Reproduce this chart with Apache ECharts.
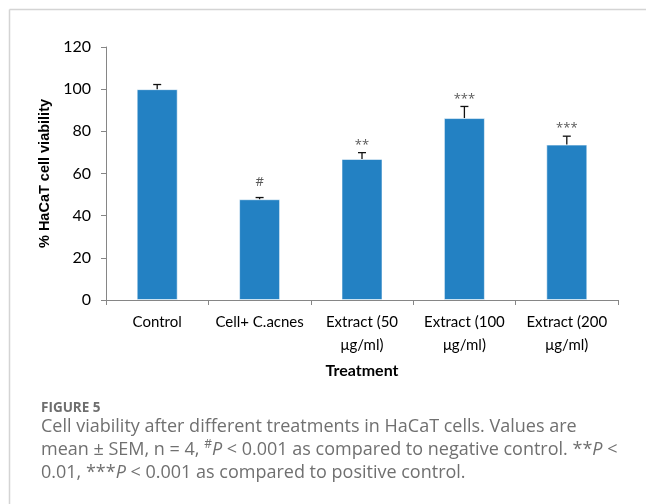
<!DOCTYPE html>
<html>
<head>
<meta charset="utf-8">
<script src="https://cdn.jsdelivr.net/npm/echarts@6/dist/echarts.min.js"></script>
<style>
  html, body { margin: 0; padding: 0; background: #fff; }
  #chart { width: 646px; height: 504px; }
</style>
</head>
<body>
<div id="chart"></div>
<script>
// Treatment groups, mean viability (%) and SEM
const categories = ['Control', 'Cell+ C.acnes', 'Extract (50\nμg/ml)', 'Extract (100\nμg/ml)', 'Extract (200\nμg/ml)'];
const viability = [100, 47.8, 66.9, 86.3, 73.7];
const sem = [2.2, 0.8, 3.0, 5.5, 4.0];
const significance = ['', '#', '**', '***', '***'];
const yTicks = { min: 0, max: 120, interval: 20 };

const chart = echarts.init(document.getElementById('chart'), null, { renderer: 'canvas' });

const tickFont = 'Lato, "Open Sans", sans-serif';
const captionFont = '"Open Sans", "Noto Sans", sans-serif';

const errorData = viability.map((v, i) => [i, v, sem[i], significance[i]]);

function renderError(params, api) {
  const i = api.value(0);
  const v = api.value(1);
  const e = api.value(2);
  const mark = significance[i];
  const base = api.coord([i, v]);
  const top = api.coord([i, v + e]);
  const cap = 4;
  const children = [
    { type: 'line', shape: { x1: base[0], y1: base[1], x2: top[0], y2: top[1] },
      style: { stroke: '#111', lineWidth: 1.3 } },
    { type: 'line', shape: { x1: top[0] - cap, y1: top[1], x2: top[0] + cap, y2: top[1] },
      style: { stroke: '#111', lineWidth: 1.3 } }
  ];
  if (mark) {
    const gap = mark === '#' ? 9 : 1;
    children.push({
      type: 'text',
      style: {
        x: top[0], y: top[1] - gap, text: mark,
        align: 'center', verticalAlign: 'bottom',
        fill: '#595959', font: '13px "Open Sans", sans-serif'
      }
    });
  }
  return { type: 'group', children };
}

const captionLines = [
  'Cell viability after different treatments in HaCaT cells. Values are',
  'mean ± SEM, n = 4, {sup|#}{i|P} < 0.001 as compared to negative control. **{i|P} <',
  '0.01, ***{i|P} < 0.001 as compared to positive control.'
];

const captionSize = 18;
const richCaption = {
  i: { fontStyle: 'italic', fontSize: captionSize, fontFamily: captionFont, fill: '#707070', lineHeight: 22 },
  sup: { fontSize: 12, fontFamily: captionFont, fill: '#707070', verticalAlign: 'top', lineHeight: 12 }
};

const graphics = [
  { type: 'line', shape: { x1: 9.5, y1: 9.5, x2: 646, y2: 9.5 }, style: { stroke: '#d4d4d4', lineWidth: 1.5 } },
  { type: 'line', shape: { x1: 9.5, y1: 9.5, x2: 9.5, y2: 504 }, style: { stroke: '#d4d4d4', lineWidth: 1.5 } },
  { type: 'text', left: 41, top: 401,
    style: { text: 'FIGURE 5', font: 'bold 13.5px ' + captionFont, fill: '#6e6e6e' } }
];
captionLines.forEach((line, k) => {
  graphics.push({
    type: 'text', left: 41, top: 416 + k * 23,
    style: {
      text: line, font: captionSize + 'px ' + captionFont, fill: '#707070',
      lineHeight: 22, rich: richCaption
    }
  });
});

chart.setOption({
  backgroundColor: '#ffffff',
  animation: false,
  grid: { left: 106, right: 28, top: 47, bottom: 204, containLabel: false },
  xAxis: {
    type: 'category',
    data: categories,
    name: 'Treatment',
    nameLocation: 'middle',
    nameGap: 63,
    nameTextStyle: { fontFamily: tickFont, fontWeight: 'bold', fontSize: 16, color: '#000' },
    axisLine: { lineStyle: { color: '#868686', width: 1 } },
    axisTick: { show: true, length: 5, alignWithLabel: false, lineStyle: { color: '#868686' } },
    axisLabel: { fontFamily: tickFont, fontSize: 15, color: '#000', lineHeight: 23, margin: 11, interval: 0 }
  },
  yAxis: {
    type: 'value',
    min: yTicks.min, max: yTicks.max, interval: yTicks.interval,
    name: '% HaCaT cell viability',
    nameLocation: 'middle',
    nameRotate: 90,
    nameGap: 48,
    nameTextStyle: { fontFamily: '"Liberation Sans", Arial, sans-serif', fontWeight: 'bold', fontSize: 14.5, color: '#000' },
    axisLine: { show: true, lineStyle: { color: '#868686', width: 1 } },
    axisTick: { show: true, length: 5, inside: false, lineStyle: { color: '#868686' } },
    splitLine: { show: false },
    axisLabel: { fontFamily: tickFont, fontSize: 16, color: '#000', margin: 15 }
  },
  series: [
    {
      type: 'bar',
      data: viability,
      barWidth: 41,
      itemStyle: { color: '#2381c3', borderColor: 'rgba(255,255,255,0.55)', borderWidth: 1 },
      z: 2
    },
    {
      type: 'custom',
      data: errorData,
      renderItem: renderError,
      z: 3
    }
  ],
  graphic: graphics
});
</script>
</body>
</html>
